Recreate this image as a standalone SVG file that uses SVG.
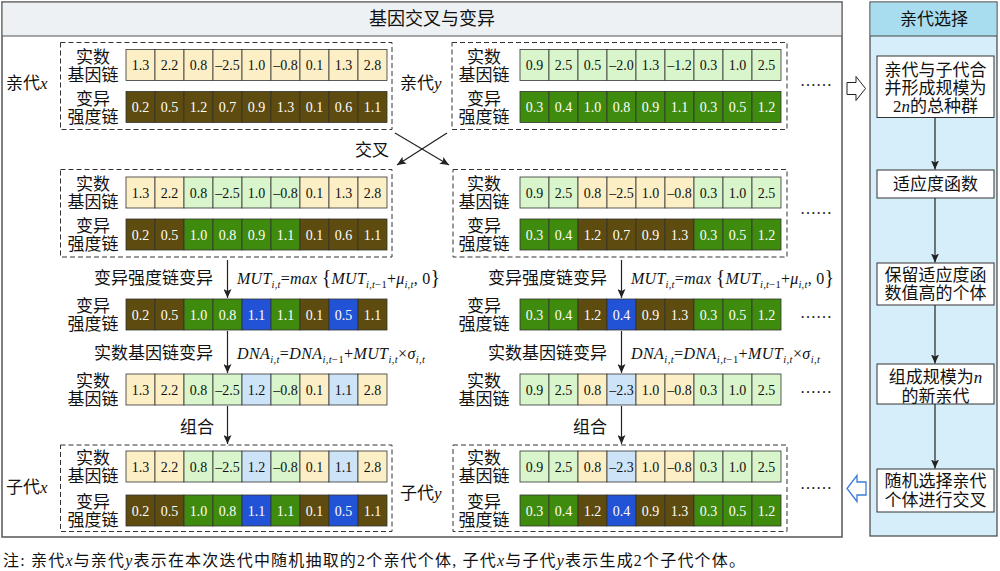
<svg xmlns="http://www.w3.org/2000/svg" width="1000" height="571" viewBox="0 0 1000 571">
<style>
text{font-family:"Liberation Serif","Noto Sans CJK SC",serif;fill:#111}
.lb{font-size:17px}
.mid{text-anchor:middle}
.end{text-anchor:end}
.num text{font-size:14px;text-anchor:middle}
.num rect{stroke:#333;stroke-width:0.8}
.w{fill:#fff}
.Y{fill:#fcefc6}.O{fill:#5d4b0f}.G{fill:#d8f5cb}.R{fill:#3f8b0d}.B{fill:#2253d6}.L{fill:#cde3f8}
.dash{fill:none;stroke:#333;stroke-width:1;stroke-dasharray:5 3}
.conn{stroke:#222;stroke-width:1.2;fill:none;marker-end:url(#ah)}
.it{font-style:italic}
.f{font-size:16px;font-style:italic}
.sb{font-size:10.5px}
.up{font-style:normal}
.br{font-size:20px;font-style:normal}
.box{fill:#fff;stroke:#333;stroke-width:1}
</style>
<defs>
<marker id="ah" markerUnits="userSpaceOnUse" markerWidth="10" markerHeight="8" refX="9" refY="4" orient="auto">
<path d="M0,0 L9,4 L0,8 L2,4 z" fill="#222"/>
</marker>
</defs>

<g id="panel-left">
<rect x="2" y="2" width="840" height="535" fill="#fff" stroke="#555" stroke-width="1.5"/>
<rect x="2.75" y="2.75" width="838.5" height="33.25" fill="#eef1f3"/>
<line x1="2" y1="36" x2="842" y2="36" stroke="#555" stroke-width="1.2"/>
<text class="lb mid" x="432" y="25" style="font-size:18px">基因交叉与变异</text>
</g>

<g id="panel-right">
<rect x="870" y="2" width="127" height="534" fill="#d5eef9" stroke="#444" stroke-width="1.2"/>
<rect x="870.6" y="2.6" width="125.8" height="33.4" fill="#a8dcef"/>
<line x1="870" y1="36" x2="997" y2="36" stroke="#444" stroke-width="1.2"/>
<text class="lb mid" x="934" y="25">亲代选择</text>
</g>

<!-- block 1: parents -->
<g id="parent-x">
<rect class="dash" x="60.5" y="42.5" width="331.5" height="87"/>
<text class="lb" x="6" y="89">亲代<tspan class="it">x</tspan></text>
<text class="lb mid" x="93" y="63">实数</text><text class="lb mid" x="93" y="81">基因链</text>
<text class="lb mid" x="93" y="105">变异</text><text class="lb mid" x="93" y="123">强度链</text>
<g class="num" transform="translate(126,49.5)">
<rect class="Y" x="0" width="29" height="31"/><rect class="Y" x="29" width="29" height="31"/><rect class="Y" x="58" width="29" height="31"/><rect class="Y" x="87" width="29" height="31"/><rect class="Y" x="116" width="29" height="31"/><rect class="Y" x="145" width="29" height="31"/><rect class="Y" x="174" width="29" height="31"/><rect class="Y" x="203" width="29" height="31"/><rect class="Y" x="232" width="29" height="31"/>
<text x="14.5" y="20.5">1.3</text><text x="43.5" y="20.5">2.2</text><text x="72.5" y="20.5">0.8</text><text x="101.5" y="20.5">–2.5</text><text x="130.5" y="20.5">1.0</text><text x="159.5" y="20.5">–0.8</text><text x="188.5" y="20.5">0.1</text><text x="217.5" y="20.5">1.3</text><text x="246.5" y="20.5">2.8</text>
</g>
<g class="num" transform="translate(126,91.5)">
<rect class="O" x="0" width="29" height="31"/><rect class="O" x="29" width="29" height="31"/><rect class="O" x="58" width="29" height="31"/><rect class="O" x="87" width="29" height="31"/><rect class="O" x="116" width="29" height="31"/><rect class="O" x="145" width="29" height="31"/><rect class="O" x="174" width="29" height="31"/><rect class="O" x="203" width="29" height="31"/><rect class="O" x="232" width="29" height="31"/>
<text class="w" x="14.5" y="20.5">0.2</text><text class="w" x="43.5" y="20.5">0.5</text><text class="w" x="72.5" y="20.5">1.2</text><text class="w" x="101.5" y="20.5">0.7</text><text class="w" x="130.5" y="20.5">0.9</text><text class="w" x="159.5" y="20.5">1.3</text><text class="w" x="188.5" y="20.5">0.1</text><text class="w" x="217.5" y="20.5">0.6</text><text class="w" x="246.5" y="20.5">1.1</text>
</g>
</g>

<g id="parent-y">
<rect class="dash" x="452" y="42.5" width="335" height="87"/>
<text class="lb" x="400" y="89">亲代<tspan class="it">y</tspan></text>
<text class="lb mid" x="484" y="63">实数</text><text class="lb mid" x="484" y="81">基因链</text>
<text class="lb mid" x="484" y="105">变异</text><text class="lb mid" x="484" y="123">强度链</text>
<g class="num" transform="translate(520,49.5)">
<rect class="G" x="0" width="29" height="31"/><rect class="G" x="29" width="29" height="31"/><rect class="G" x="58" width="29" height="31"/><rect class="G" x="87" width="29" height="31"/><rect class="G" x="116" width="29" height="31"/><rect class="G" x="145" width="29" height="31"/><rect class="G" x="174" width="29" height="31"/><rect class="G" x="203" width="29" height="31"/><rect class="G" x="232" width="29" height="31"/>
<text x="14.5" y="20.5">0.9</text><text x="43.5" y="20.5">2.5</text><text x="72.5" y="20.5">0.5</text><text x="101.5" y="20.5">–2.0</text><text x="130.5" y="20.5">1.3</text><text x="159.5" y="20.5">–1.2</text><text x="188.5" y="20.5">0.3</text><text x="217.5" y="20.5">1.0</text><text x="246.5" y="20.5">2.5</text>
</g>
<g class="num" transform="translate(520,91.5)">
<rect class="R" x="0" width="29" height="31"/><rect class="R" x="29" width="29" height="31"/><rect class="R" x="58" width="29" height="31"/><rect class="R" x="87" width="29" height="31"/><rect class="R" x="116" width="29" height="31"/><rect class="R" x="145" width="29" height="31"/><rect class="R" x="174" width="29" height="31"/><rect class="R" x="203" width="29" height="31"/><rect class="R" x="232" width="29" height="31"/>
<text class="w" x="14.5" y="20.5">0.3</text><text class="w" x="43.5" y="20.5">0.4</text><text class="w" x="72.5" y="20.5">1.0</text><text class="w" x="101.5" y="20.5">0.8</text><text class="w" x="130.5" y="20.5">0.9</text><text class="w" x="159.5" y="20.5">1.1</text><text class="w" x="188.5" y="20.5">0.3</text><text class="w" x="217.5" y="20.5">0.5</text><text class="w" x="246.5" y="20.5">1.2</text>
</g>
<text x="800" y="86" style="font-size:16px">……</text>
</g>

<text id="label-crossover" class="lb mid" x="372" y="156">交叉</text>

<!-- block 2: after crossover -->
<g id="cross-x">
<rect class="dash" x="60.5" y="169.5" width="331.5" height="87.5"/>
<text class="lb mid" x="93" y="190">实数</text><text class="lb mid" x="93" y="208">基因链</text>
<text class="lb mid" x="93" y="232">变异</text><text class="lb mid" x="93" y="250">强度链</text>
<g class="num" transform="translate(126,177)">
<rect class="Y" x="0" width="29" height="31"/><rect class="Y" x="29" width="29" height="31"/><rect class="G" x="58" width="29" height="31"/><rect class="G" x="87" width="29" height="31"/><rect class="G" x="116" width="29" height="31"/><rect class="G" x="145" width="29" height="31"/><rect class="Y" x="174" width="29" height="31"/><rect class="Y" x="203" width="29" height="31"/><rect class="Y" x="232" width="29" height="31"/>
<text x="14.5" y="20.5">1.3</text><text x="43.5" y="20.5">2.2</text><text x="72.5" y="20.5">0.8</text><text x="101.5" y="20.5">–2.5</text><text x="130.5" y="20.5">1.0</text><text x="159.5" y="20.5">–0.8</text><text x="188.5" y="20.5">0.1</text><text x="217.5" y="20.5">1.3</text><text x="246.5" y="20.5">2.8</text>
</g>
<g class="num" transform="translate(126,219)">
<rect class="O" x="0" width="29" height="31"/><rect class="O" x="29" width="29" height="31"/><rect class="R" x="58" width="29" height="31"/><rect class="R" x="87" width="29" height="31"/><rect class="R" x="116" width="29" height="31"/><rect class="R" x="145" width="29" height="31"/><rect class="O" x="174" width="29" height="31"/><rect class="O" x="203" width="29" height="31"/><rect class="O" x="232" width="29" height="31"/>
<text class="w" x="14.5" y="20.5">0.2</text><text class="w" x="43.5" y="20.5">0.5</text><text class="w" x="72.5" y="20.5">1.0</text><text class="w" x="101.5" y="20.5">0.8</text><text class="w" x="130.5" y="20.5">0.9</text><text class="w" x="159.5" y="20.5">1.1</text><text class="w" x="188.5" y="20.5">0.1</text><text class="w" x="217.5" y="20.5">0.6</text><text class="w" x="246.5" y="20.5">1.1</text>
</g>
</g>

<g id="cross-y">
<rect class="dash" x="453" y="169.5" width="334" height="87.5"/>
<text class="lb mid" x="484" y="190">实数</text><text class="lb mid" x="484" y="208">基因链</text>
<text class="lb mid" x="484" y="232">变异</text><text class="lb mid" x="484" y="250">强度链</text>
<g class="num" transform="translate(520,177)">
<rect class="G" x="0" width="29" height="31"/><rect class="G" x="29" width="29" height="31"/><rect class="Y" x="58" width="29" height="31"/><rect class="Y" x="87" width="29" height="31"/><rect class="Y" x="116" width="29" height="31"/><rect class="Y" x="145" width="29" height="31"/><rect class="G" x="174" width="29" height="31"/><rect class="G" x="203" width="29" height="31"/><rect class="G" x="232" width="29" height="31"/>
<text x="14.5" y="20.5">0.9</text><text x="43.5" y="20.5">2.5</text><text x="72.5" y="20.5">0.8</text><text x="101.5" y="20.5">–2.5</text><text x="130.5" y="20.5">1.0</text><text x="159.5" y="20.5">–0.8</text><text x="188.5" y="20.5">0.3</text><text x="217.5" y="20.5">1.0</text><text x="246.5" y="20.5">2.5</text>
</g>
<g class="num" transform="translate(520,219)">
<rect class="R" x="0" width="29" height="31"/><rect class="R" x="29" width="29" height="31"/><rect class="O" x="58" width="29" height="31"/><rect class="O" x="87" width="29" height="31"/><rect class="O" x="116" width="29" height="31"/><rect class="O" x="145" width="29" height="31"/><rect class="R" x="174" width="29" height="31"/><rect class="R" x="203" width="29" height="31"/><rect class="R" x="232" width="29" height="31"/>
<text class="w" x="14.5" y="20.5">0.3</text><text class="w" x="43.5" y="20.5">0.4</text><text class="w" x="72.5" y="20.5">1.2</text><text class="w" x="101.5" y="20.5">0.7</text><text class="w" x="130.5" y="20.5">0.9</text><text class="w" x="159.5" y="20.5">1.3</text><text class="w" x="188.5" y="20.5">0.3</text><text class="w" x="217.5" y="20.5">0.5</text><text class="w" x="246.5" y="20.5">1.2</text>
</g>
<text x="800" y="214" style="font-size:16px">……</text>
</g>

<!-- mutation of mutation-strength chain -->
<g id="mut-x">
<text class="lb end" x="213" y="284">变异强度链变异</text>
<text class="f" x="237" y="284" textLength="203" lengthAdjust="spacing">MUT<tspan class="sb" dy="4">i,t</tspan><tspan class="up" dy="-4">=</tspan>max <tspan class="br">{</tspan>MUT<tspan class="sb" dy="4">i,t</tspan><tspan class="sb up">−1</tspan><tspan class="up" dy="-4">+</tspan>μ<tspan class="sb" dy="4">i,t</tspan><tspan class="up" dy="-4">, 0</tspan><tspan class="br">}</tspan></text>
<text class="lb mid" x="93" y="312">变异</text><text class="lb mid" x="93" y="330">强度链</text>
<g class="num" transform="translate(126,299)">
<rect class="O" x="0" width="29" height="31"/><rect class="O" x="29" width="29" height="31"/><rect class="R" x="58" width="29" height="31"/><rect class="R" x="87" width="29" height="31"/><rect class="B" x="116" width="29" height="31"/><rect class="R" x="145" width="29" height="31"/><rect class="O" x="174" width="29" height="31"/><rect class="B" x="203" width="29" height="31"/><rect class="O" x="232" width="29" height="31"/>
<text class="w" x="14.5" y="20.5">0.2</text><text class="w" x="43.5" y="20.5">0.5</text><text class="w" x="72.5" y="20.5">1.0</text><text class="w" x="101.5" y="20.5">0.8</text><text class="w" x="130.5" y="20.5">1.1</text><text class="w" x="159.5" y="20.5">1.1</text><text class="w" x="188.5" y="20.5">0.1</text><text class="w" x="217.5" y="20.5">0.5</text><text class="w" x="246.5" y="20.5">1.1</text>
</g>
</g>

<g id="mut-y">
<text class="lb end" x="607" y="284">变异强度链变异</text>
<text class="f" x="631" y="284" textLength="203" lengthAdjust="spacing">MUT<tspan class="sb" dy="4">i,t</tspan><tspan class="up" dy="-4">=</tspan>max <tspan class="br">{</tspan>MUT<tspan class="sb" dy="4">i,t</tspan><tspan class="sb up">−1</tspan><tspan class="up" dy="-4">+</tspan>μ<tspan class="sb" dy="4">i,t</tspan><tspan class="up" dy="-4">, 0</tspan><tspan class="br">}</tspan></text>
<text class="lb mid" x="484" y="312">变异</text><text class="lb mid" x="484" y="330">强度链</text>
<g class="num" transform="translate(520,299)">
<rect class="R" x="0" width="29" height="31"/><rect class="R" x="29" width="29" height="31"/><rect class="O" x="58" width="29" height="31"/><rect class="B" x="87" width="29" height="31"/><rect class="O" x="116" width="29" height="31"/><rect class="O" x="145" width="29" height="31"/><rect class="R" x="174" width="29" height="31"/><rect class="R" x="203" width="29" height="31"/><rect class="R" x="232" width="29" height="31"/>
<text class="w" x="14.5" y="20.5">0.3</text><text class="w" x="43.5" y="20.5">0.4</text><text class="w" x="72.5" y="20.5">1.2</text><text class="w" x="101.5" y="20.5">0.4</text><text class="w" x="130.5" y="20.5">0.9</text><text class="w" x="159.5" y="20.5">1.3</text><text class="w" x="188.5" y="20.5">0.3</text><text class="w" x="217.5" y="20.5">0.5</text><text class="w" x="246.5" y="20.5">1.2</text>
</g>
<text x="800" y="318" style="font-size:16px">……</text>
</g>

<!-- mutation of real gene chain -->
<g id="dna-x">
<text class="lb end" x="213" y="359">实数基因链变异</text>
<text class="f" x="237" y="359" textLength="188" lengthAdjust="spacing">DNA<tspan class="sb" dy="4">i,t</tspan><tspan class="up" dy="-4">=</tspan>DNA<tspan class="sb" dy="4">i,t</tspan><tspan class="sb up">−1</tspan><tspan class="up" dy="-4">+</tspan>MUT<tspan class="sb" dy="4">i,t</tspan><tspan class="up" dy="-4">×</tspan>σ<tspan class="sb" dy="4">i,t</tspan></text>
<text class="lb mid" x="93" y="387">实数</text><text class="lb mid" x="93" y="405">基因链</text>
<g class="num" transform="translate(126,374)">
<rect class="Y" x="0" width="29" height="31"/><rect class="Y" x="29" width="29" height="31"/><rect class="G" x="58" width="29" height="31"/><rect class="G" x="87" width="29" height="31"/><rect class="L" x="116" width="29" height="31"/><rect class="G" x="145" width="29" height="31"/><rect class="Y" x="174" width="29" height="31"/><rect class="L" x="203" width="29" height="31"/><rect class="Y" x="232" width="29" height="31"/>
<text x="14.5" y="20.5">1.3</text><text x="43.5" y="20.5">2.2</text><text x="72.5" y="20.5">0.8</text><text x="101.5" y="20.5">–2.5</text><text x="130.5" y="20.5">1.2</text><text x="159.5" y="20.5">–0.8</text><text x="188.5" y="20.5">0.1</text><text x="217.5" y="20.5">1.1</text><text x="246.5" y="20.5">2.8</text>
</g>
<text class="lb mid" x="197" y="433">组合</text>
</g>

<g id="dna-y">
<text class="lb end" x="607" y="359">实数基因链变异</text>
<text class="f" x="631" y="359" textLength="189" lengthAdjust="spacing">DNA<tspan class="sb" dy="4">i,t</tspan><tspan class="up" dy="-4">=</tspan>DNA<tspan class="sb" dy="4">i,t</tspan><tspan class="sb up">−1</tspan><tspan class="up" dy="-4">+</tspan>MUT<tspan class="sb" dy="4">i,t</tspan><tspan class="up" dy="-4">×</tspan>σ<tspan class="sb" dy="4">i,t</tspan></text>
<text class="lb mid" x="484" y="387">实数</text><text class="lb mid" x="484" y="405">基因链</text>
<g class="num" transform="translate(520,374)">
<rect class="G" x="0" width="29" height="31"/><rect class="G" x="29" width="29" height="31"/><rect class="Y" x="58" width="29" height="31"/><rect class="L" x="87" width="29" height="31"/><rect class="Y" x="116" width="29" height="31"/><rect class="Y" x="145" width="29" height="31"/><rect class="G" x="174" width="29" height="31"/><rect class="G" x="203" width="29" height="31"/><rect class="G" x="232" width="29" height="31"/>
<text x="14.5" y="20.5">0.9</text><text x="43.5" y="20.5">2.5</text><text x="72.5" y="20.5">0.8</text><text x="101.5" y="20.5">–2.3</text><text x="130.5" y="20.5">1.0</text><text x="159.5" y="20.5">–0.8</text><text x="188.5" y="20.5">0.3</text><text x="217.5" y="20.5">1.0</text><text x="246.5" y="20.5">2.5</text>
</g>
<text x="800" y="393" style="font-size:16px">……</text>
<text class="lb mid" x="590" y="433">组合</text>
</g>

<!-- block 5: offspring -->
<g id="child-x">
<rect class="dash" x="60.5" y="445" width="331.5" height="86.5"/>
<text class="lb" x="6" y="493">子代<tspan class="it">x</tspan></text>
<text class="lb mid" x="93" y="464">实数</text><text class="lb mid" x="93" y="482">基因链</text>
<text class="lb mid" x="93" y="508">变异</text><text class="lb mid" x="93" y="526">强度链</text>
<g class="num" transform="translate(126,451)">
<rect class="Y" x="0" width="29" height="31"/><rect class="Y" x="29" width="29" height="31"/><rect class="G" x="58" width="29" height="31"/><rect class="G" x="87" width="29" height="31"/><rect class="L" x="116" width="29" height="31"/><rect class="G" x="145" width="29" height="31"/><rect class="Y" x="174" width="29" height="31"/><rect class="L" x="203" width="29" height="31"/><rect class="Y" x="232" width="29" height="31"/>
<text x="14.5" y="20.5">1.3</text><text x="43.5" y="20.5">2.2</text><text x="72.5" y="20.5">0.8</text><text x="101.5" y="20.5">–2.5</text><text x="130.5" y="20.5">1.2</text><text x="159.5" y="20.5">–0.8</text><text x="188.5" y="20.5">0.1</text><text x="217.5" y="20.5">1.1</text><text x="246.5" y="20.5">2.8</text>
</g>
<g class="num" transform="translate(126,495)">
<rect class="O" x="0" width="29" height="31"/><rect class="O" x="29" width="29" height="31"/><rect class="R" x="58" width="29" height="31"/><rect class="R" x="87" width="29" height="31"/><rect class="B" x="116" width="29" height="31"/><rect class="R" x="145" width="29" height="31"/><rect class="O" x="174" width="29" height="31"/><rect class="B" x="203" width="29" height="31"/><rect class="O" x="232" width="29" height="31"/>
<text class="w" x="14.5" y="20.5">0.2</text><text class="w" x="43.5" y="20.5">0.5</text><text class="w" x="72.5" y="20.5">1.0</text><text class="w" x="101.5" y="20.5">0.8</text><text class="w" x="130.5" y="20.5">1.1</text><text class="w" x="159.5" y="20.5">1.1</text><text class="w" x="188.5" y="20.5">0.1</text><text class="w" x="217.5" y="20.5">0.5</text><text class="w" x="246.5" y="20.5">1.1</text>
</g>
</g>

<g id="child-y">
<rect class="dash" x="453" y="445" width="334" height="86.5"/>
<text class="lb" x="400" y="499">子代<tspan class="it">y</tspan></text>
<text class="lb mid" x="484" y="464">实数</text><text class="lb mid" x="484" y="482">基因链</text>
<text class="lb mid" x="484" y="508">变异</text><text class="lb mid" x="484" y="526">强度链</text>
<g class="num" transform="translate(520,451)">
<rect class="G" x="0" width="29" height="31"/><rect class="G" x="29" width="29" height="31"/><rect class="Y" x="58" width="29" height="31"/><rect class="L" x="87" width="29" height="31"/><rect class="Y" x="116" width="29" height="31"/><rect class="Y" x="145" width="29" height="31"/><rect class="G" x="174" width="29" height="31"/><rect class="G" x="203" width="29" height="31"/><rect class="G" x="232" width="29" height="31"/>
<text x="14.5" y="20.5">0.9</text><text x="43.5" y="20.5">2.5</text><text x="72.5" y="20.5">0.8</text><text x="101.5" y="20.5">–2.3</text><text x="130.5" y="20.5">1.0</text><text x="159.5" y="20.5">–0.8</text><text x="188.5" y="20.5">0.3</text><text x="217.5" y="20.5">1.0</text><text x="246.5" y="20.5">2.5</text>
</g>
<g class="num" transform="translate(520,495)">
<rect class="R" x="0" width="29" height="31"/><rect class="R" x="29" width="29" height="31"/><rect class="O" x="58" width="29" height="31"/><rect class="B" x="87" width="29" height="31"/><rect class="O" x="116" width="29" height="31"/><rect class="O" x="145" width="29" height="31"/><rect class="R" x="174" width="29" height="31"/><rect class="R" x="203" width="29" height="31"/><rect class="R" x="232" width="29" height="31"/>
<text class="w" x="14.5" y="20.5">0.3</text><text class="w" x="43.5" y="20.5">0.4</text><text class="w" x="72.5" y="20.5">1.2</text><text class="w" x="101.5" y="20.5">0.4</text><text class="w" x="130.5" y="20.5">0.9</text><text class="w" x="159.5" y="20.5">1.3</text><text class="w" x="188.5" y="20.5">0.3</text><text class="w" x="217.5" y="20.5">0.5</text><text class="w" x="246.5" y="20.5">1.2</text>
</g>
<text x="800" y="489" style="font-size:16px">……</text>
</g>

<!-- parent selection flow -->
<g id="sel-1"><rect class="box" x="877" y="56" width="117" height="61.5"/>
<text class="lb mid" x="935.5" y="76">亲代与子代合</text><text class="lb mid" x="935.5" y="94">并形成规模为</text><text class="lb mid" x="935.5" y="112">2<tspan class="it">n</tspan>的总种群</text></g>
<g id="sel-2"><rect class="box" x="877" y="170" width="117" height="28"/>
<text class="lb mid" x="935.5" y="190">适应度函数</text></g>
<g id="sel-3"><rect class="box" x="877" y="263" width="117" height="42"/>
<text class="lb mid" x="935.5" y="281">保留适应度函</text><text class="lb mid" x="935.5" y="299">数值高的个体</text></g>
<g id="sel-4"><rect class="box" x="877" y="364" width="117" height="40"/>
<text class="lb mid" x="935.5" y="383">组成规模为<tspan class="it">n</tspan></text><text class="lb mid" x="935.5" y="402">的新亲代</text></g>
<g id="sel-5"><rect class="box" x="877" y="469" width="117" height="43"/>
<text class="lb mid" x="935.5" y="487">随机选择亲代</text><text class="lb mid" x="935.5" y="506">个体进行交叉</text></g>

<g id="connectors">
<line class="conn" x1="395" y1="133" x2="449" y2="165"/>
<line class="conn" x1="447" y1="133" x2="397" y2="165"/>
<line class="conn" x1="227.5" y1="260" x2="227.5" y2="298"/>
<line class="conn" x1="227.5" y1="331" x2="227.5" y2="373"/>
<line class="conn" x1="227.5" y1="406" x2="227.5" y2="444"/>
<line class="conn" x1="621.5" y1="260" x2="621.5" y2="298"/>
<line class="conn" x1="621.5" y1="331" x2="621.5" y2="373"/>
<line class="conn" x1="621.5" y1="406" x2="621.5" y2="444"/>
<line class="conn" x1="935" y1="117.5" x2="935" y2="169.5"/>
<line class="conn" x1="935" y1="198" x2="935" y2="262.5"/>
<line class="conn" x1="935" y1="305" x2="935" y2="363.5"/>
<line class="conn" x1="935" y1="404" x2="935" y2="468.5"/>
<polygon points="847,82.5 856,82.5 856,76.5 865.5,88.5 856,100.5 856,94.5 847,94.5" fill="#fff" stroke="#222" stroke-width="1"/>
<polygon points="866,482 857,482 857,475.5 847,488.5 857,501.5 857,495 866,495" fill="#fff" stroke="#3b7bd9" stroke-width="1.3"/>
</g>

<text id="note" x="3" y="566" style="font-size:16px" textLength="742" lengthAdjust="spacing">注: 亲代<tspan class="it">x</tspan>与亲代<tspan class="it">y</tspan>表示在本次迭代中随机抽取的2个亲代个体, 子代<tspan class="it">x</tspan>与子代<tspan class="it">y</tspan>表示生成2个子代个体。</text>
</svg>
